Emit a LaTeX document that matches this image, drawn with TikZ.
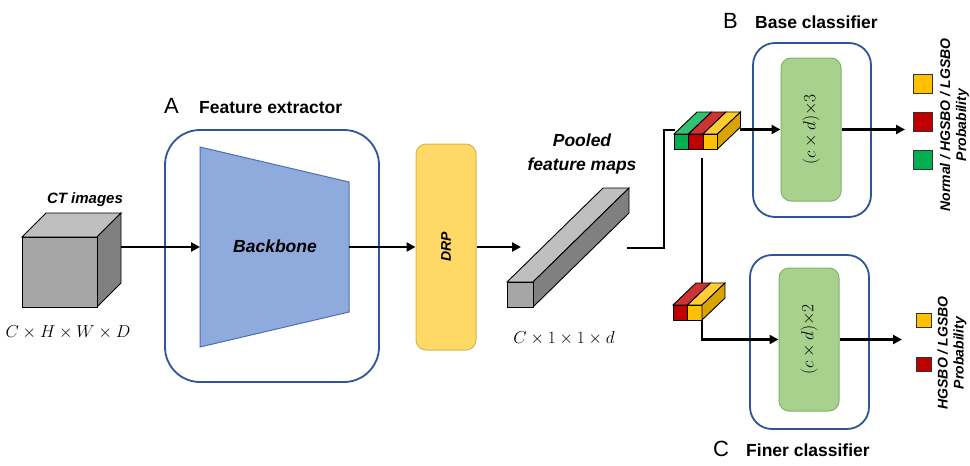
\documentclass[tikz,border=0pt]{standalone}
\usepackage{fontspec}
\setmainfont{Liberation Sans}
\usetikzlibrary{arrows.meta,calc}

\definecolor{frameblue}{RGB}{47,85,151}
\definecolor{bbfill}{RGB}{143,170,220}
\definecolor{bbline}{RGB}{76,110,180}
\definecolor{drpfill}{RGB}{255,217,102}
\definecolor{drpline}{RGB}{214,182,86}
\definecolor{clsfill}{RGB}{169,209,142}
\definecolor{clsline}{RGB}{130,179,102}
\definecolor{sqgreen}{RGB}{0,176,80}
\definecolor{sqred}{RGB}{192,0,0}
\definecolor{sqyellow}{RGB}{255,192,0}

\tikzset{
	edge/.style = {draw = black, line width = 0.9pt},
	link/.style = {line width = 2.3pt},
	flow/.style = {link, -{Triangle[length = 9pt, width = 9pt]}},
	stage/.style = {draw = frameblue, fill = white, line width = 1.8pt, rounded corners = #1},
	stage/.default = 22pt,
	layer/.style = {draw = clsline, fill = clsfill, line width = 1pt, rounded corners = 10pt, minimum width = 60, minimum height = 143},
	sq/.style = {draw = black!80, line width = 1pt, inner sep = 0},
	tag/.style = {font = \fontsize{22}{24}\selectfont, inner sep = 0},
	heading/.style = {font = \fontsize{17.5}{20}\selectfont\bfseries, inner sep = 0},
	caption/.style = {font = \fontsize{#1}{23.5}\selectfont\bfseries\itshape, inner sep = 0, align = center},
	caption/.default = 17.5,
	prob/.style = {font = \fontsize{14}{16}\selectfont\bfseries\itshape, inner sep = 0, align = center, rotate = 90},
	dims/.style = {font = \fontsize{16}{18}\selectfont, inner sep = 0}
}

% grey 3d box: front top-left x, y, width, height, depth x, depth y
\newcommand{\cuboid}[6]{
	\draw[edge, fill = black!25] (#1,#2) -- ++(#5,-#6) -- ++(#3,0) -- ++(-#5,#6) -- cycle;
	\draw[edge, fill = black!50] (#1+#3,#2) -- ++(#5,-#6) -- ++(0,#4) -- ++(-#5,#6) -- cycle;
	\draw[edge, fill = black!35] (#1,#2) rectangle ++(#3,#4);
}
% coloured score bar: front top-left x, y, number of cells, colours
\newcommand{\scorebar}[4]{
	\foreach \c [count = \i from 0] in {#4} {
		\draw[edge, fill = \c!80!white] (#1+\i*14.5,#2) -- ++(23,-22) -- ++(14.5,0) -- ++(-23,22) -- cycle;
		\draw[edge, fill = \c] (#1+\i*14.5,#2) rectangle ++(14.5,15);
	}
	\draw[edge, fill = sqyellow!85!black] (#1+#3*14.5,#2) -- ++(23,-22) -- ++(0,15) -- ++(-23,22) -- cycle;
}

\begin{document}
\begin{tikzpicture}[x = 1pt, y = -1pt]

	\useasboundingbox (0,0) rectangle (970,466);

	% input volume
	\cuboid{22}{237}{75}{70}{24}{24}
	\node[caption = 15, anchor = base] (ct-label) at (85,203) {CT images};
	\node[dims, anchor = base] (ct-dims) at (68,337) {$C \times H \times W \times D$};
	\coordinate (ct-out) at (121,247);

	% feature extractor
	\node[stage = 35pt, minimum width = 214, minimum height = 252] (extractor) at (272,256) {};
	\node[tag, anchor = base west] (tag-a) at (164,113.5) {A};
	\node[heading, anchor = base west] (head-a) at (199,113.5) {Feature extractor};
	\draw[fill = bbfill, draw = bbline, line width = 1pt] (200,147) -- (349,182) -- (349,312) -- (200,347) -- cycle;
	\node[caption, anchor = base] (backbone) at (275,252) {Backbone};
	\coordinate (bb-in) at (200,247);
	\coordinate (bb-out) at (349,247);

	\node[draw = drpline, fill = drpfill, line width = 1pt, rounded corners = 10pt, minimum width = 60, minimum height = 206] (drp) at (446,247) {};
	\node[caption = 14, rotate = 90] (drp-text) at (drp.center) {DRP};

	% pooled vector
	\cuboid{507}{282}{26}{25}{96}{94}
	\node[caption] (pool-label) at (582,154) {Pooled\\feature maps};
	\node[dims, anchor = base] (pool-dims) at (564,343) {$C \times 1 \times 1 \times d$};
	\coordinate (pool-in) at (521,247);
	\coordinate (pool-out) at (627,248);

	% classifiers
	\node[stage, minimum width = 118, minimum height = 174] (base-frame) at (812,130) {};
	\node[layer] (base) at (811,129.5) {};
	\node[dims, rotate = 90] (base-text) at (base.center) {$(c \times d){\times}3$};
	\node[tag, anchor = base west] (tag-b) at (723,28.3) {B};
	\node[heading, anchor = base west] (head-b) at (755,28.3) {Base classifier};

	\node[stage, minimum width = 119, minimum height = 174] (finer-frame) at (809.5,342) {};
	\node[layer] (finer) at (809,339.5) {};
	\node[dims, rotate = 90] (finer-text) at (finer.center) {$(c \times d){\times}2$};
	\node[tag, anchor = base west] (tag-c) at (713,456) {C};
	\node[heading, anchor = base west] (head-c) at (746,456) {Finer classifier};

	\coordinate (bar-a) at (675,130);
	\coordinate (bar-a-out) at (740,129.5);
	\coordinate (split) at (702,158);
	\coordinate (base-out) at (905,129.5);
	\coordinate (finer-out) at (902,339.5);

	% connections
	\draw[flow] (ct-out) -- (bb-in);
	\draw[flow] (bb-out) -- (drp.west);
	\draw[flow] (drp.east) -- (pool-in);
	\draw[link] (pool-out) -- ++(37,0) |- (bar-a);
	\draw[flow] (bar-a-out) -- (base.west);
	\draw[flow] (split) |- (finer.west);
	\draw[flow] (base.east) -- (base-out);
	\draw[flow] (finer.east) -- (finer-out);

	\scorebar{674}{134}{3}{sqgreen,sqred,sqyellow}
	\scorebar{673}{305}{2}{sqred,sqyellow}

	% outputs
	\foreach \c [count = \i] in {sqyellow,sqred,sqgreen}
		\node[sq, fill = \c, minimum size = 19] (pb-\i) at (922.5,45.5+38*\i) {};
	\foreach \c [count = \i] in {sqyellow,sqred}
		\node[sq, fill = \c, minimum width = 15, minimum height = 14] (pf-\i) at (923.5,277+43.5*\i) {};
	\node[prob] (pb-text) at (954.5,125) {Normal / HGSBO / LGSBO\\Probability};
	\node[prob] (pf-text) at (952,353) {HGSBO / LGSBO\\Probability};

\end{tikzpicture}
\end{document}
